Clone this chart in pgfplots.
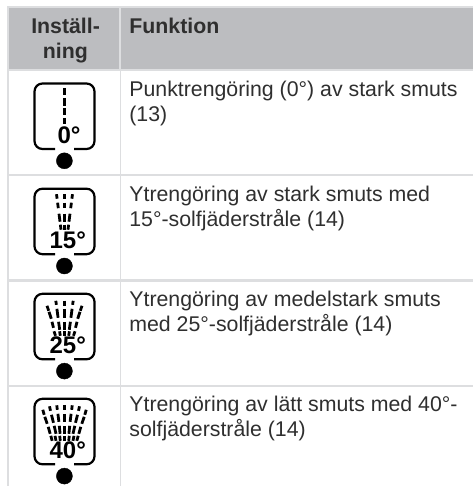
\documentclass[border=0pt]{standalone}
\usepackage{pgfplots}
\pgfplotsset{compat=1.18}
\usepackage{fontspec}
\setmainfont{Liberation Sans}
\definecolor{hdr}{HTML}{BCBDC0}
\definecolor{gridc}{HTML}{DDDEE0}
\definecolor{txt}{HTML}{2F2F2F}
\newcommand\TT{0}
\newcommand\sg[4]{\addplot[black,line width=2.8bp] coordinates {({64.5+#1},{\TT+#2}) ({64.5+#3},{\TT+#4})};}
\newcommand\sym[4]{\sg{#1}{#2}{#3}{#4}\sg{-#1}{#2}{-#3}{#4}}
\newcommand\rect[5]{\addplot[fill=#1,draw=none] coordinates {(#2,#3) (#4,#3) (#4,#5) (#2,#5)} --cycle;}
\newcommand\frameicon{%
  \addplot[black,line width=2.2bp,rounded corners=8bp] coordinates {(55,{\TT+65.5}) (34.5,{\TT+65.5}) (34.5,\TT) (94.5,\TT) (94.5,{\TT+65.5}) (74,{\TT+65.5})};
  \addplot[only marks,mark=*,mark size=8bp,black,mark options={draw=none,fill=black}] coordinates {(64.4,{\TT+77.3})};
}
\newcommand\bodyfont{\fontsize{21.3bp}{25bp}\selectfont}
\newcommand\txt[3]{\node[anchor=base west,inner sep=0pt,text=txt,font=\bodyfont] at (axis cs:#1,#2) {#3};}
\newcommand\hd[4]{\node[anchor=#1,inner sep=0pt,text=txt,font=\bodyfont\bfseries] at (axis cs:#2,#3) {#4};}
\newcommand\dg[3]{\node[anchor=base,inner sep=0pt,text=black,font=\fontsize{24bp}{25bp}\selectfont\bfseries] at (axis cs:#1,#2) {#3};}
\begin{document}
\begin{tikzpicture}
\begin{axis}[scale only axis,width=473bp,height=486bp,at={(0,0)},
  xmin=0,xmax=473,ymin=0,ymax=486,y dir=reverse,hide axis,clip=true]
\rect{white}{0}{0}{473}{486}
% table grid
\rect{gridc}{7}{5.7}{473}{486}
\rect{white}{9.3}{71.5}{119.5}{174}
\rect{white}{121}{71.5}{473}{174}
\rect{white}{9.3}{176}{119.5}{279.3}
\rect{white}{121}{176}{473}{279.3}
\rect{white}{9.3}{281.7}{119.5}{385}
\rect{white}{121}{281.7}{473}{385}
\rect{white}{9.3}{387}{119.5}{486}
\rect{white}{121}{387}{473}{486}
\rect{hdr}{9.3}{8.3}{119}{69}
\rect{hdr}{121}{8.3}{473}{69}
% header
\hd{base}{65.6}{34}{Inställ-}
\hd{base}{65.4}{59}{ning}
\hd{base west}{129.2}{34}{Funktion}
% body
\txt{129.2}{96.7}{Punktrengöring (0°) av stark smuts}
\txt{129.2}{121.7}{(13)}
\txt{129.2}{201.7}{Ytrengöring av stark smuts med}
\txt{129.2}{226.5}{15°-solfjäderstråle (14)}
\txt{129.2}{306.2}{Ytrengöring av medelstark smuts}
\txt{129.2}{331}{med 25°-solfjäderstråle (14)}
\txt{129.2}{411.7}{Ytrengöring av lätt smuts med 40°-}
\txt{129.2}{436.7}{solfjäderstråle (14)}
% icon 0
\renewcommand\TT{83.5}
\frameicon
\sg{0}{5}{0}{11.5}
\sg{0}{14.5}{0}{22.5}
\sg{0}{24.5}{0}{31.5}
\sg{0}{34.5}{0}{40.5}
\dg{69}{143}{0°}
% icon 15
\renewcommand\TT{188.7}
\frameicon
\sg{0}{5.5}{0}{10} \sg{0}{14}{0}{19.5} \sg{0}{25}{0}{33} \sg{0}{36}{0}{41}
\sym{8}{5.5}{7.4}{10} \sym{6.9}{14}{6.2}{19.5} \sym{5.5}{25}{4.5}{33} \sym{4.1}{36}{3.5}{41}
\dg{67.8}{248.5}{15°}
% icon 25
\renewcommand\TT{293.8}
\frameicon
\sg{0}{6.7}{0}{11.7} \sg{0}{15}{0}{24} \sg{0}{28}{0}{36} \sg{0}{37.5}{0}{42}
\sym{8.7}{7}{8.1}{11} \sym{7.6}{15}{6.4}{24} \sym{5.9}{28}{4.8}{36} \sym{4.9}{37.5}{4.2}{42}
\sym{17.5}{12}{15.8}{17} \sym{15.5}{18}{13.2}{25} \sym{12.5}{28}{11}{34} \sym{10.5}{37.5}{9}{42}
\dg{67.8}{353.5}{25°}
% icon 40
\renewcommand\TT{398.8}
\frameicon
\sg{0}{6}{0}{11} \sg{0}{15}{0}{23} \sg{0}{27}{0}{35} \sg{0}{37}{0}{42}
\sym{7.7}{6.5}{7.2}{11} \sym{6.6}{15}{5.6}{23} \sym{5.2}{27}{4.4}{35} \sym{4.8}{37}{4.2}{42}
\sym{15}{7.5}{14}{12} \sym{13}{16}{11}{24} \sym{10.3}{27}{8.5}{35} \sym{9.5}{37}{8.5}{42}
\sym{21.7}{11}{20.3}{16} \sym{19.7}{18}{17.3}{25} \sym{16.3}{28}{14.3}{35} \sym{13.7}{37}{12.3}{42}
\dg{67.8}{458.5}{40°}
\end{axis}
\end{tikzpicture}
\end{document}
